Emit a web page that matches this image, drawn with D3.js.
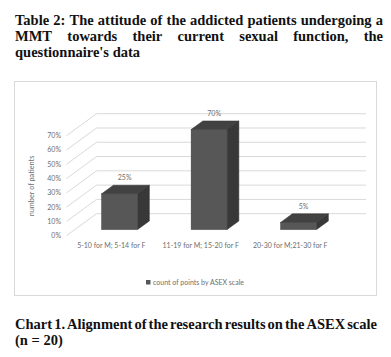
<!DOCTYPE html>
<html><head><meta charset="utf-8">
<script src="https://cdn.jsdelivr.net/npm/d3@7"></script>
<style>
html,body{margin:0;padding:0;background:#fff;}
svg{display:block;}
</style></head>
<body>
<svg id="c" width="391" height="357"></svg>
<script>
const titleLines = ["Table 2: The attitude of the addicted patients undergoing a",
                    "MMT towards their current sexual function, the",
                    "questionnaire's data"];
const captionLines = ["Chart 1. Alignment of the research results on the ASEX scale", "(n = 20)"];
const categories = ["5-10 for M; 5-14 for F", "11-19 for M; 15-20 for F", "20-30 for M;21-30 for F"];
const values = [0.25, 0.70, 0.05];
const valueLabels = ["25%", "70%", "5%"];
const yTicks = [0, 0.1, 0.2, 0.3, 0.4, 0.5, 0.6, 0.7];
const seriesName = "count of points  by ASEX scale";
const yTitle = "number of patients";

const svg = d3.select("#c");
const serif = "'Liberation Serif', 'Times New Roman', serif";
const sans = "Lato, 'Liberation Sans', sans-serif";

function justifyLine(text, x0, x1, y, size, justify) {
  const g = svg.append("g");
  const words = text.split(" ");
  const nodes = words.map(w => g.append("text").attr("y", y).attr("font-family", serif)
      .attr("font-weight", "bold").attr("font-size", size).attr("fill", "#111").text(w));
  const widths = nodes.map(n => n.node().getComputedTextLength());
  const total = d3.sum(widths);
  const gap = justify ? (x1 - x0 - total) / (words.length - 1) : size * 0.25;
  let x = x0;
  nodes.forEach((n, i) => { n.attr("x", x); x += widths[i] + gap; });
}
justifyLine(titleLines[0], 15, 383, 25, 14.5, true);
justifyLine(titleLines[1], 15, 383, 41, 14.5, true);
justifyLine(titleLines[2], 15, 383, 57, 14.5, false);
justifyLine(captionLines[0], 15, 377, 329, 14.5, true);
justifyLine(captionLines[1], 15, 377, 345, 14.5, false);

svg.append("rect").attr("x", 14.5).attr("y", 81.5).attr("width", 362).attr("height", 214)
  .attr("fill", "#fff").attr("stroke", "#d9d9d9").attr("stroke-width", 1);

const depth = [30, -22];
const x = d3.scaleBand().domain(categories).range([66.5, 335]);
const y = d3.scaleLinear().domain([0, 0.7]).range([235.7, 135.7]);

const grid = svg.append("g").attr("stroke", "#d9d9d9").attr("stroke-width", 1).attr("fill", "none");
yTicks.forEach(t => {
  const yy = y(t);
  grid.append("line").attr("x1", x.range()[0]).attr("y1", yy)
      .attr("x2", x.range()[0] + depth[0]).attr("y2", yy + depth[1]);
  grid.append("line").attr("x1", x.range()[0] + depth[0]).attr("y1", yy + depth[1])
      .attr("x2", x.range()[1] + depth[0] + 1).attr("y2", yy + depth[1]);
});

svg.append("g").selectAll("text").data(yTicks).join("text")
  .attr("x", 61).attr("y", d => y(d) + 2.4).attr("text-anchor", "end")
  .attr("font-family", sans).attr("font-size", 7).attr("fill", "#6e6e6e")
  .text(d => d3.format(".0%")(d));

svg.append("text").attr("transform", "translate(33.5,186) rotate(-90)")
  .attr("text-anchor", "middle").attr("font-family", sans).attr("font-size", 7.3).attr("fill", "#6e6e6e")
  .text(yTitle);

svg.append("g").selectAll("text").data(categories).join("text")
  .attr("x", d => x(d) + x.bandwidth() / 2).attr("y", 247.5).attr("text-anchor", "middle")
  .attr("font-family", sans).attr("font-size", 7).attr("fill", "#6e6e6e").text(d => d);

const fF = 0.28, fB = 0.67, barW = 36;
const bars = svg.append("g");
categories.forEach((c, i) => {
  const cx = x(c) + x.bandwidth() / 2;
  const x0 = cx - barW / 2 + depth[0] * fF, x1 = x0 + barW;
  const yb = y(0) + depth[1] * fF, yt = y(values[i]) + depth[1] * fF;
  const dx = depth[0] * (fB - fF), dy = depth[1] * (fB - fF);
  bars.append("path").attr("d", `M${x1},${yt}L${x1+dx},${yt+dy}L${x1+dx},${yb+dy}L${x1},${yb}Z`)
    .attr("fill", "#383838").attr("stroke", "#2e2e2e").attr("stroke-width", 0.5);
  bars.append("path").attr("d", `M${x0},${yt}L${x0+dx},${yt+dy}L${x1+dx},${yt+dy}L${x1},${yt}Z`)
    .attr("fill", "#424242").attr("stroke", "#2e2e2e").attr("stroke-width", 0.5);
  bars.append("rect").attr("x", x0).attr("y", yt).attr("width", barW).attr("height", yb - yt)
    .attr("fill", "#575757").attr("stroke", "#3a3a3a").attr("stroke-width", 0.5);
  svg.append("text").attr("x", cx + depth[0] * fF + 5).attr("y", yt + dy - 5)
    .attr("text-anchor", "middle").attr("font-family", sans).attr("font-size", 7).attr("fill", "#6e6e6e")
    .text(valueLabels[i]);
});

svg.append("rect").attr("x", 146).attr("y", 280).attr("width", 4.5).attr("height", 4.5).attr("fill", "#575757");
svg.append("text").attr("x", 153).attr("y", 285).attr("font-family", sans).attr("font-size", 7)
  .attr("fill", "#6e6e6e").text(seriesName);
</script>
</body></html>
